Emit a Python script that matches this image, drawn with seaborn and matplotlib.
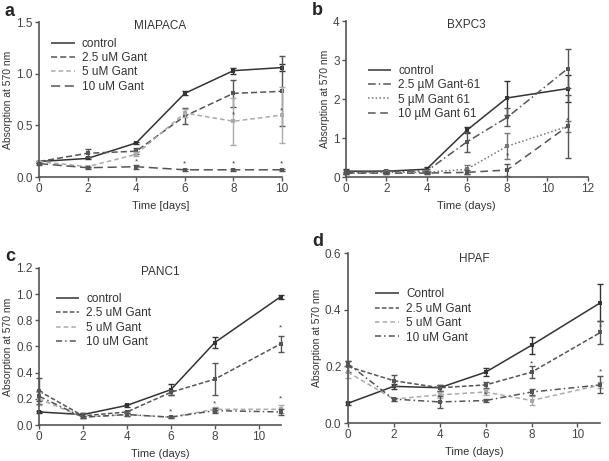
import matplotlib
matplotlib.use("Agg")
import matplotlib.pyplot as plt
import seaborn as sns

sns.set_style("ticks")
plt.rcParams['font.family'] = ['Liberation Sans', 'DejaVu Sans']

# a - MIAPACA
a_days = [0, 2, 4, 6, 8, 10]
a_ctrl = [0.15, 0.18, 0.33, 0.81, 1.03, 1.06]
a_ctrl_err = [0.01, 0.01, 0.01, 0.02, 0.03, 0.03]
a_g25 = [0.15, 0.23, 0.25, 0.59, 0.81, 0.83]
a_g25_err = [0.01, 0.04, 0.03, 0.08, 0.13, 0.34]
a_g5 = [0.15, 0.10, 0.22, 0.62, 0.54, 0.60]
a_g5_err = [0.01, 0.01, 0.02, 0.04, 0.23, 0.27]
a_g10 = [0.13, 0.09, 0.10, 0.07, 0.07, 0.07]
a_g10_err = [0.01, 0.01, 0.02, 0.01, 0.01, 0.01]
a_star_x = [4, 6, 8, 10, 8, 10]
a_star_y = [0.15, 0.13, 0.13, 0.13, 0.60, 0.64]

# b - BXPC3
b_days = [0, 2, 4, 6, 8, 11]
b_ctrl = [0.15, 0.15, 0.20, 1.20, 2.03, 2.27]
b_ctrl_err = [0.05, 0.03, 0.05, 0.08, 0.43, 0.35]
b_g25 = [0.12, 0.15, 0.15, 0.90, 1.53, 2.78]
b_g25_err = [0.05, 0.03, 0.05, 0.25, 0.23, 0.50]
b_g5 = [0.10, 0.12, 0.12, 0.20, 0.79, 1.30]
b_g5_err = [0.03, 0.03, 0.03, 0.12, 0.33, 0.15]
b_g10 = [0.10, 0.10, 0.10, 0.12, 0.18, 1.30]
b_g10_err = [0.03, 0.03, 0.03, 0.05, 0.15, 0.80]
b_star_x = [8, 11]
b_star_y = [0.55, 1.45]

# c - PANC1
c_days = [0, 2, 4, 6, 8, 11]
c_ctrl = [0.10, 0.08, 0.15, 0.27, 0.63, 0.98]
c_ctrl_err = [0.01, 0.01, 0.01, 0.04, 0.04, 0.015]
c_g25 = [0.26, 0.07, 0.10, 0.25, 0.35, 0.62]
c_g25_err = [0.10, 0.02, 0.01, 0.02, 0.12, 0.06]
c_g5 = [0.20, 0.06, 0.08, 0.06, 0.12, 0.12]
c_g5_err = [0.05, 0.01, 0.01, 0.01, 0.02, 0.03]
c_g10 = [0.22, 0.06, 0.08, 0.06, 0.11, 0.10]
c_g10_err = [0.04, 0.01, 0.01, 0.01, 0.02, 0.02]
c_star_x = [6, 8, 11, 11]
c_star_y = [0.10, 0.16, 0.20, 0.74]

# d - HPAF
d_days = [0, 2, 4, 6, 8, 11]
d_ctrl = [0.07, 0.13, 0.125, 0.18, 0.275, 0.425]
d_ctrl_err = [0.005, 0.01, 0.01, 0.015, 0.03, 0.065]
d_g25 = [0.20, 0.15, 0.125, 0.135, 0.18, 0.32]
d_g25_err = [0.02, 0.02, 0.01, 0.01, 0.02, 0.04]
d_g5 = [0.18, 0.085, 0.10, 0.11, 0.08, 0.135]
d_g5_err = [0.02, 0.005, 0.01, 0.01, 0.015, 0.01]
d_g10 = [0.21, 0.085, 0.075, 0.08, 0.11, 0.135]
d_g10_err = [0.01, 0.005, 0.02, 0.005, 0.01, 0.03]
d_star_x = [4, 6, 8, 11, 11]
d_star_y = [0.09, 0.10, 0.21, 0.34, 0.18]

col_dark = '#333333'
col_mid = '#555555'
col_light = '#aaaaaa'


def panel(ax, days, series, stars, title, letter, xlabel, xlim, xticks,
          ylim, yticks, leg_anchor, leg_size=8.5):
    for vals, err, lab, col, dash in series:
        sns.lineplot(x=days, y=vals, ax=ax, color=col, label=lab,
                     linewidth=1.1, marker='s', markersize=2.5,
                     markeredgewidth=0)
        ax.lines[-1].set_dashes(dash)
        ax.lines[-1].set_clip_on(False)
        ax.errorbar(days, vals, yerr=err, fmt='none', ecolor=col,
                    elinewidth=1.0, capsize=2.5, capthick=1.0, clip_on=False)
    for sx, sy in zip(*stars):
        ax.text(sx, sy, '*', ha='center', va='center', fontsize=6,
                color='#444444')
    ax.set_xlim(*xlim)
    ax.set_ylim(*ylim)
    ax.set_xticks(xticks)
    ax.set_yticks(yticks)
    ax.set_xlabel(xlabel, fontsize=8, color='#333333')
    ax.set_ylabel('Absorption at 570 nm', fontsize=7.5, color='#333333',
                  labelpad=2)
    ax.set_title(title, fontsize=8.5, color='#333333', y=0.9)
    ax.tick_params(labelsize=8.5, colors='#555555', labelcolor='#444444',
                   length=3, width=1, pad=1.5)
    for s in ['left', 'bottom']:
        ax.spines[s].set_color('#555555')
        ax.spines[s].set_linewidth(1.2)
    sns.despine(ax=ax)
    leg = ax.legend(loc='upper left', bbox_to_anchor=leg_anchor,
                    frameon=False, fontsize=leg_size, handlelength=2.0,
                    labelspacing=0.2, handletextpad=0.6, borderaxespad=0)
    for h in leg.legend_handles:
        h.set_marker('')
    for t in leg.get_texts():
        t.set_color('#333333')
    ax.text(-0.14, 1.07, letter, transform=ax.transAxes, fontsize=13,
            fontweight='bold', ha='left', va='center')


fig = plt.figure(figsize=(6.09, 4.61), dpi=100)
ax_a = fig.add_axes([0.064, 0.616, 0.399, 0.336])
ax_b = fig.add_axes([0.568, 0.616, 0.397, 0.338])
ax_c = fig.add_axes([0.064, 0.078, 0.397, 0.341])
ax_d = fig.add_axes([0.571, 0.082, 0.415, 0.369])

panel(ax_a, a_days,
      [(a_ctrl, a_ctrl_err, 'control', col_dark, (1, 0)),
       (a_g25, a_g25_err, '2.5 uM Gant', col_mid, (4, 2)),
       (a_g5, a_g5_err, '5 uM Gant', col_light, (3, 2)),
       (a_g10, a_g10_err, '10 uM Gant', col_mid, (6, 3))],
      (a_star_x, a_star_y), 'MIAPACA', 'a', 'Time [days]',
      (0, 10), [0, 2, 4, 6, 8, 10], (0, 1.5), [0.0, 0.5, 1.0, 1.5],
      (0.03, 0.93))

panel(ax_b, b_days,
      [(b_ctrl, b_ctrl_err, 'control', col_dark, (1, 0)),
       (b_g25, b_g25_err, '2.5 \u00b5M Gant-61', col_mid, (5, 2, 1, 2)),
       (b_g5, b_g5_err, '5 \u00b5M Gant 61', '#777777', (1, 1.5)),
       (b_g10, b_g10_err, '10 \u00b5M Gant 61', col_mid, (5, 3))],
      (b_star_x, b_star_y), 'BXPC3', 'b', 'Time (days)',
      (0, 12), [0, 2, 4, 6, 8, 10, 12], (0, 4), [0, 1, 2, 3, 4],
      (0.07, 0.75))

panel(ax_c, c_days,
      [(c_ctrl, c_ctrl_err, 'control', col_dark, (1, 0)),
       (c_g25, c_g25_err, '2.5 uM Gant', col_mid, (3, 1.5)),
       (c_g5, c_g5_err, '5 uM Gant', col_light, (3, 2)),
       (c_g10, c_g10_err, '10 uM Gant', col_mid, (4, 2, 1, 2))],
      (c_star_x, c_star_y), 'PANC1', 'c', 'Time (days)',
      (0, 11), [0, 2, 4, 6, 8, 10], (0, 1.2),
      [0.0, 0.2, 0.4, 0.6, 0.8, 1.0, 1.2], (0.05, 0.87))

panel(ax_d, d_days,
      [(d_ctrl, d_ctrl_err, 'Control', col_dark, (1, 0)),
       (d_g25, d_g25_err, '2.5 uM Gant', col_mid, (3, 1.5)),
       (d_g5, d_g5_err, '5 uM Gant', col_light, (3, 2)),
       (d_g10, d_g10_err, '10 uM Gant', col_mid, (4, 2, 1, 2))],
      (d_star_x, d_star_y), 'HPAF', 'd', 'Time (days)',
      (0, 11), [0, 2, 4, 6, 8, 10], (0, 0.6), [0.0, 0.2, 0.4, 0.6],
      (0.09, 0.82))

fig.savefig('out.png', dpi=100)
